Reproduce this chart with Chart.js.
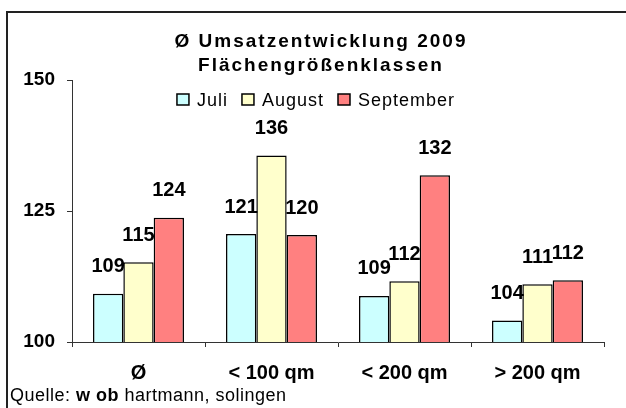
<!DOCTYPE html>
<html>
<head>
<meta charset="utf-8">
<script src="https://cdn.jsdelivr.net/npm/chart.js@4.4.1/dist/chart.umd.min.js"></script>
<style>
  html, body { margin: 0; padding: 0; background: #fff; }
  #wrap { position: relative; width: 626px; height: 408px; }
</style>
</head>
<body>
<div id="wrap"><canvas id="chart" width="626" height="408"></canvas></div>
<script>
// Umsatzentwicklung 2009 nach Flächengrößenklassen

const categories = ['Ø', '< 100 qm', '< 200 qm', '> 200 qm'];
const juli = [109.2, 120.6, 108.8, 104.1];
const august = [115.2, 135.6, 111.6, 111.0];
const september = [123.7, 120.4, 131.8, 111.8];
const yTicks = [100, 125, 150];
const titleLines = ['Ø Umsatzentwicklung 2009', 'Flächengrößenklassen'];

const FONT = '"Liberation Sans", Arial, sans-serif';

// Frame, title, legend and source line
const decorations = {
  id: 'decorations',
  beforeDraw(chart) {
    const ctx = chart.ctx;
    ctx.save();
    ctx.fillStyle = '#fff';
    ctx.fillRect(0, 0, chart.width, chart.height);
    ctx.strokeStyle = '#222';
    ctx.lineWidth = 2;
    ctx.strokeRect(7, 12, 700, 500);
    ctx.restore();
  },
  afterDraw(chart) {
    const ctx = chart.ctx;
    ctx.save();
    ctx.fillStyle = '#000';
    ctx.textBaseline = 'alphabetic';

    // title
    ctx.font = 'bold 19px ' + FONT;
    ctx.letterSpacing = '2px';
    ctx.textAlign = 'center';
    ctx.fillText(titleLines[0], 321, 47);
    ctx.fillText(titleLines[1], 321, 71);

    // legend
    ctx.font = '18px ' + FONT;
    ctx.letterSpacing = '1px';
    ctx.textAlign = 'left';
    const items = chart.data.datasets.map(ds => ({ label: ds.label, color: ds.backgroundColor }));
    const widths = items.map(it => 20 + ctx.measureText(it.label).width);
    const total = widths.reduce((a, b) => a + b, 0) + 14 * (items.length - 1);
    let x = 316 - total / 2;
    items.forEach((it, i) => {
      ctx.fillStyle = it.color;
      ctx.fillRect(x, 94, 12, 11);
      ctx.strokeStyle = '#000';
      ctx.lineWidth = 1.5;
      ctx.strokeRect(x, 94, 12, 11);
      ctx.fillStyle = '#000';
      ctx.fillText(it.label, x + 20, 105.5);
      x += widths[i] + 14;
    });

    // source line
    ctx.letterSpacing = '0.5px';
    let qx = 10;
    ctx.font = '18px ' + FONT;
    ctx.fillText('Quelle: ', qx, 401);
    qx += ctx.measureText('Quelle: ').width;
    ctx.font = 'bold 18px ' + FONT;
    ctx.fillText('w ob', qx, 401);
    qx += ctx.measureText('w ob ').width;
    ctx.font = '18px ' + FONT;
    ctx.fillText('hartmann, solingen', qx, 401);
    ctx.restore();
  }
};

// Value labels above the bars
const barLabels = {
  id: 'barLabels',
  afterDatasetsDraw(chart) {
    const ctx = chart.ctx;
    ctx.save();
    ctx.font = 'bold 20px ' + FONT;
    ctx.fillStyle = '#000';
    ctx.textAlign = 'center';
    ctx.textBaseline = 'middle';
    chart.data.datasets.forEach((ds, di) => {
      const meta = chart.getDatasetMeta(di);
      meta.data.forEach((bar, i) => {
        ctx.fillText(Math.round(ds.data[i]).toString(), bar.x, bar.y - 27);
      });
    });
    ctx.restore();
  }
};

new Chart(document.getElementById('chart'), {
  type: 'bar',
  data: {
    labels: categories,
    datasets: [
      { label: 'Juli', data: juli, backgroundColor: '#CCFFFF' },
      { label: 'August', data: august, backgroundColor: '#FFFFCC' },
      { label: 'September', data: september, backgroundColor: '#FF8080' }
    ].map(ds => Object.assign(ds, { borderColor: '#000', borderWidth: 1.5 }))
  },
  options: {
    responsive: false,
    animation: false,
    events: [],
    categoryPercentage: 0.684,
    barPercentage: 1,
    layout: { padding: { top: 80, left: 0, right: 22, bottom: 22 } },
    plugins: {
      legend: { display: false },
      title: { display: false },
      tooltip: { enabled: false }
    },
    scales: {
      x: {
        grid: { offset: true, drawOnChartArea: false, tickLength: 5, color: '#333' },
        border: { color: '#333', width: 1 },
        ticks: { color: '#000', padding: 14, font: { family: FONT, size: 20, weight: 'bold' } },
        afterFit(scale) { scale.height = 44; }
      },
      y: {
        min: 100,
        max: 150,
        afterBuildTicks(scale) { scale.ticks = yTicks.map(v => ({ value: v })); },
        grid: { drawOnChartArea: false, tickLength: 5, color: '#333' },
        border: { color: '#333', width: 1 },
        ticks: { color: '#000', padding: 12, font: { family: FONT, size: 19, weight: 'bold' } },
        afterFit(scale) { scale.width = 72; }
      }
    }
  },
  plugins: [decorations, barLabels]
});
</script>
</body>
</html>
